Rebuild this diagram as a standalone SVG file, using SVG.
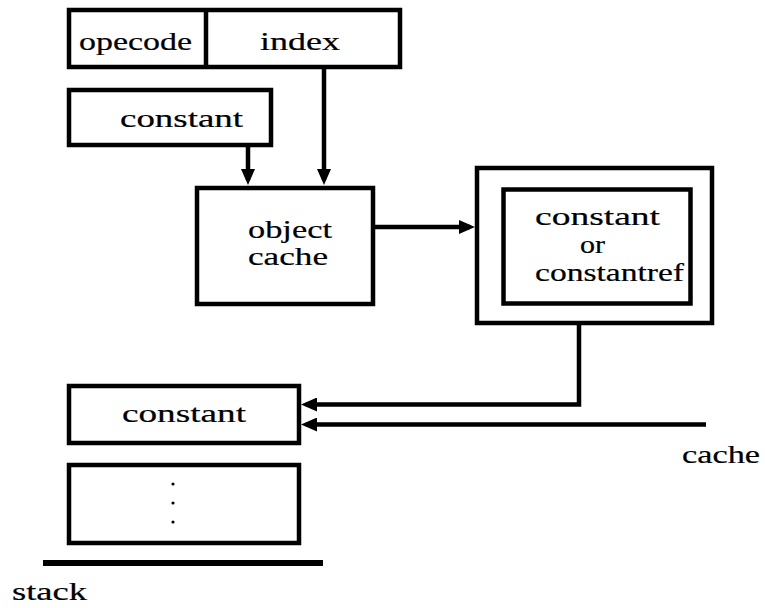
<svg xmlns="http://www.w3.org/2000/svg" width="765" height="608" viewBox="0 0 765 608">
  <style>
    .box { fill: #ffffff; stroke: #000000; stroke-width: 4.5; }
    .wire { fill: none; stroke: #000000; stroke-width: 4.5; }
    .t { font-family: 'Liberation Serif', 'DejaVu Serif', 'Times New Roman', serif; font-size: 25px; fill: #000000; stroke: #000000; stroke-width: 0.2; }
  </style>
  <defs>
    <marker id="head" markerUnits="userSpaceOnUse" viewBox="0 0 16 14" refX="11" refY="7" markerWidth="16" markerHeight="14" orient="auto">
      <path d="M0,0 L16,7 L0,14 z" fill="#000000"/>
    </marker>
  </defs>

  <rect width="765" height="608" fill="#ffffff"/>

  <!-- instruction word: opcode + index -->
  <g id="instruction">
    <rect class="box" x="69" y="10" width="331" height="57"/>
    <line x1="206" y1="10" x2="206" y2="67" stroke="#000000" stroke-width="4.5"/>
    <text class="t" x="79" y="50" textLength="113" lengthAdjust="spacingAndGlyphs">opecode</text>
    <text class="t" x="260" y="50" textLength="80" lengthAdjust="spacingAndGlyphs">index</text>
  </g>

  <g id="constant-in">
    <rect class="box" x="69" y="90" width="202" height="55"/>
    <text class="t" x="120" y="127" textLength="123" lengthAdjust="spacingAndGlyphs">constant</text>
  </g>

  <g id="object-cache">
    <rect class="box" x="197" y="188" width="176" height="116"/>
    <text class="t" x="248" y="238" textLength="84" lengthAdjust="spacingAndGlyphs">object</text>
    <text class="t" x="248" y="265" textLength="80" lengthAdjust="spacingAndGlyphs">cache</text>
  </g>

  <g id="result">
    <rect class="box" x="477" y="168" width="235" height="155"/>
    <rect class="box" x="503.5" y="189.5" width="187" height="114"/>
    <text class="t" x="535" y="225" textLength="125" lengthAdjust="spacingAndGlyphs">constant</text>
    <text class="t" x="580" y="253" textLength="25" lengthAdjust="spacingAndGlyphs">or</text>
    <text class="t" x="535" y="281" textLength="149" lengthAdjust="spacingAndGlyphs">constantref</text>
  </g>

  <g id="stack">
    <rect class="box" x="69" y="386" width="230" height="57"/>
    <text class="t" x="122" y="422" textLength="124" lengthAdjust="spacingAndGlyphs">constant</text>
    <rect class="box" x="69" y="465" width="230" height="78"/>
    <circle cx="173" cy="484" r="1.6" fill="#000000"/>
    <circle cx="173" cy="503" r="1.6" fill="#000000"/>
    <circle cx="173" cy="522" r="1.6" fill="#000000"/>
    <line x1="43" y1="563" x2="323" y2="563" stroke="#000000" stroke-width="6"/>
    <text class="t" x="12" y="600" textLength="75" lengthAdjust="spacingAndGlyphs">stack</text>
  </g>

  <g id="cache-label">
    <text class="t" x="682" y="463" textLength="78" lengthAdjust="spacingAndGlyphs">cache</text>
  </g>

  <g id="connectors">
    <path class="wire" d="M248,145 V180" marker-end="url(#head)"/>
    <path class="wire" d="M324,67 V180" marker-end="url(#head)"/>
    <path class="wire" d="M373,227 H470" marker-end="url(#head)"/>
    <path class="wire" d="M579,323 V404.5 H306" marker-end="url(#head)"/>
    <path class="wire" d="M706,424.5 H306" marker-end="url(#head)"/>
  </g>
</svg>
